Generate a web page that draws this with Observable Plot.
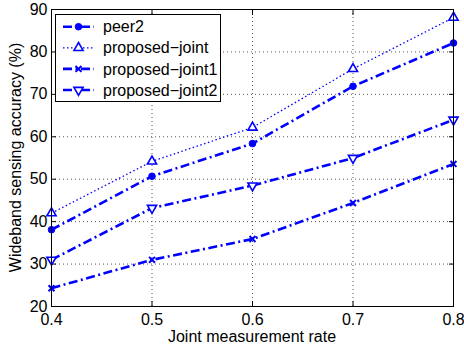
<!DOCTYPE html>
<html>
<head>
<meta charset="utf-8">
<script src="https://cdn.jsdelivr.net/npm/d3@7"></script>
<script src="https://cdn.jsdelivr.net/npm/@observablehq/plot@0.6"></script>
<style>
  html, body { margin: 0; padding: 0; background: #fff; }
  #chart svg { display: block; }
</style>
</head>
<body>
<div id="chart"></div>
<script>
const rates = [0.4, 0.5, 0.6, 0.7, 0.8];
const peer2 = [38.1, 50.7, 58.4, 71.9, 82.1];
const proposedJoint = [42.0, 54.2, 62.2, 76.0, 88.1];
const proposedJoint1 = [24.3, 31.0, 35.9, 44.4, 53.6];
const proposedJoint2 = [31.0, 43.2, 48.5, 55.0, 64.0];
const seriesNames = ["peer2", "proposed-joint", "proposed-joint1", "proposed-joint2"];
const xTicks = [0.4, 0.5, 0.6, 0.7, 0.8];
const yTicks = [20, 30, 40, 50, 60, 70, 80, 90];
const xLabel = "Joint measurement rate";
const yLabel = "Wideband sensing accuracy (%)";

const blue = "#0000ff";
const dashDot = "9,3.5,2,3.5";
const styles = [
  {dash: dashDot, width: 2.6, symbol: "circle", fill: blue, rotate: 0, r: 3.3, sw: 1},
  {dash: "1.5,2.5", width: 1.3, symbol: "triangle", fill: "white", rotate: 0, r: 3.4, sw: 1.6},
  {dash: dashDot, width: 2.6, symbol: "times", fill: "none", rotate: 0, r: 2.8, sw: 2},
  {dash: dashDot, width: 2.6, symbol: "triangle", fill: "white", rotate: 180, r: 3.4, sw: 1.6}
];
const values = [peer2, proposedJoint, proposedJoint1, proposedJoint2];
const series = seriesNames.map((name, i) => rates.map((x, j) => ({name, x, y: values[i][j]})));

const font = "'Liberation Sans', Arial, Helvetica, sans-serif";
const marks = [
  Plot.gridX(xTicks, {stroke: "#555", strokeOpacity: 1, strokeDasharray: "1,3", strokeWidth: 1}),
  Plot.gridY(yTicks, {stroke: "#555", strokeOpacity: 1, strokeDasharray: "1,3", strokeWidth: 1}),
  Plot.axisX(xTicks, {anchor: "bottom", tickSize: 0, tickPadding: 7, fontSize: 16, tickFormat: d3.format(".1f"), label: null}),
  Plot.axisY(yTicks, {anchor: "left", tickSize: 0, tickPadding: 4, fontSize: 16, label: null}),
  Plot.axisX(xTicks, {anchor: "bottom", tickSize: -5, text: null, label: null}),
  Plot.axisX(xTicks, {anchor: "top", tickSize: -5, text: null, label: null}),
  Plot.axisY(yTicks, {anchor: "left", tickSize: -5, text: null, label: null}),
  Plot.axisY(yTicks, {anchor: "right", tickSize: -5, text: null, label: null}),
];
series.forEach((data, i) => {
  const s = styles[i];
  marks.push(Plot.line(data, {x: "x", y: "y", stroke: blue, strokeWidth: s.width, strokeDasharray: s.dash, strokeLinecap: "butt"}));
  marks.push(Plot.dot(data, {x: "x", y: "y", symbol: () => s.symbol, r: s.r, stroke: blue, fill: s.fill, strokeWidth: s.sw, rotate: s.rotate}));
});
marks.push(Plot.frame({stroke: "black", strokeWidth: 1}));

const chart = Plot.plot({
  width: 464,
  height: 350,
  marginLeft: 51,
  marginRight: 11,
  marginTop: 9,
  marginBottom: 44,
  style: {fontFamily: font, fontSize: "16px", color: "black", background: "white"},
  x: {domain: [0.4, 0.8], label: null},
  y: {domain: [20, 90], label: null},
  symbol: {type: "identity"},
  marks
});
document.getElementById("chart").appendChild(chart);

// Axis titles and legend
const svg = d3.select(chart);
svg.append("text").attr("x", 252).attr("y", 341.5).style("text-anchor", "middle")
  .style("font-family", font).style("font-size", "16px").style("fill", "black").text(xLabel);
svg.append("text").attr("transform", "translate(21,157.5) rotate(-90)").style("text-anchor", "middle")
  .style("font-family", font).style("font-size", "16px").style("fill", "black").text(yLabel);

const lg = svg.append("g");
lg.append("rect").attr("x", 55.5).attr("y", 14.5).attr("width", 165).attr("height", 87)
  .style("fill", "white").style("stroke", "black").style("stroke-width", "1px");
seriesNames.forEach((name, i) => {
  const s = styles[i];
  const cy = 26.7 + i * 21.1;
  lg.append("line").attr("x1", 63).attr("x2", 94).attr("y1", cy).attr("y2", cy)
    .style("stroke", blue).style("stroke-width", s.width + "px").style("stroke-dasharray", s.dash);
  const symType = s.symbol === "circle" ? d3.symbolCircle : s.symbol === "triangle" ? d3.symbolTriangle : d3.symbolTimes;
  lg.append("path").attr("d", d3.symbol(symType, s.r * s.r * Math.PI)())
    .attr("transform", `translate(78.5,${cy}) rotate(${s.rotate})`)
    .style("fill", s.fill).style("stroke", blue).style("stroke-width", s.sw + "px");
  lg.append("text").attr("x", 103).attr("y", cy).attr("dy", "0.35em")
    .style("text-anchor", "start")
    .style("font-family", font).style("font-size", "16px").style("fill", "black")
    .text(name.replace(/-/g, "\u2212"));
});
</script>
</body>
</html>
